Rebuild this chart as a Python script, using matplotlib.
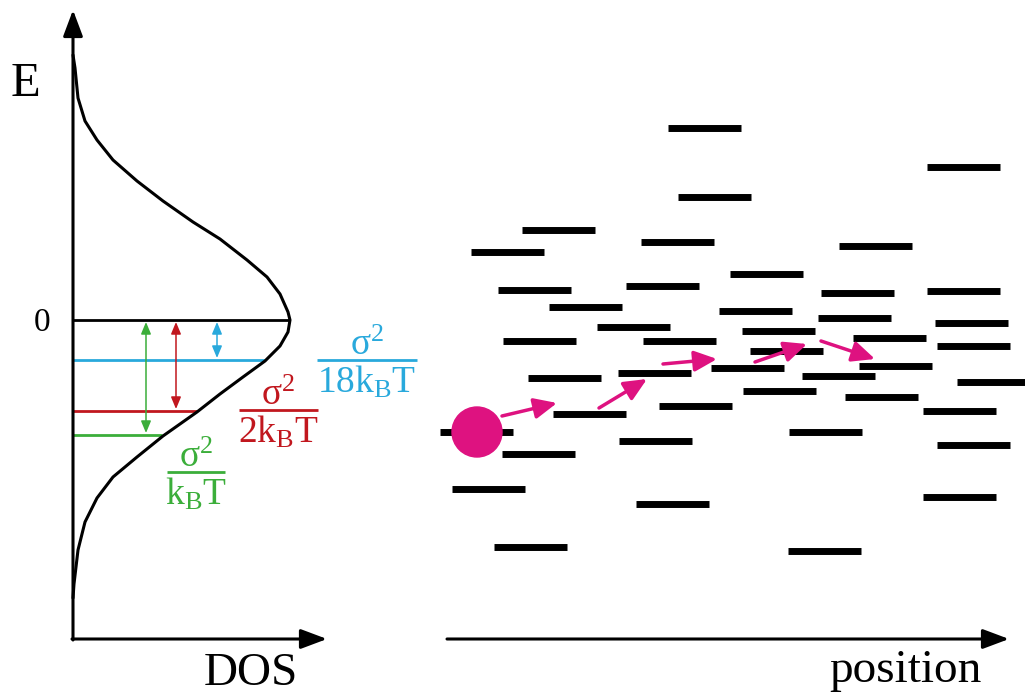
import matplotlib
matplotlib.use('Agg')
import matplotlib.pyplot as plt
from matplotlib.patches import Circle

plt.rcParams['font.family'] = ['Liberation Serif', 'DejaVu Serif']
plt.rcParams['mathtext.fontset'] = 'custom'
plt.rcParams['mathtext.rm'] = 'Liberation Serif'

# Data (pixel units of the 1025x693 canvas, y down)
# DOS curve: x = density, y = energy
dos_x = [73, 75, 78, 85, 97, 113, 137, 163, 193, 220, 247, 267, 280, 288,
         290, 288, 280, 265, 243, 220, 197, 163, 137, 113, 97, 85, 78, 74, 73]
dos_y = [55, 68, 98, 121, 140, 160, 181, 201, 222, 239, 260, 277, 294, 312,
         320, 332, 346, 361, 377, 394, 412, 436, 457, 477, 498, 522, 550, 584,
         598]

# energy levels: zero, sigma^2/18kT, sigma^2/2kT, sigma^2/kT
level_y = [320, 360, 411, 435]
level_xend = [290, 265, 197, 162]
level_colors = ['black', '#29A9DC', '#C1171E', '#3BAE3A']
gap_arrow_x = [217, 176, 146]

# localized sites (left end, energy)
site_x = [668, 927, 678, 522, 641, 839, 471, 730, 626, 498, 821, 927, 549,
          719, 818, 935, 597, 742, 503, 643, 853, 937, 750, 618, 711, 859,
          528, 802, 957, 743, 845, 923, 659, 553, 440, 789, 937, 619, 502,
          452, 923, 636, 494, 788]
site_y = [128, 167, 197, 230, 242, 246, 252, 274, 286, 290, 293, 291, 307,
          311, 318, 323, 327, 331, 341, 341, 338, 346, 351, 373, 368, 366,
          378, 376, 382, 391, 397, 411, 406, 414, 432, 432, 445, 441, 454,
          489, 497, 504, 547, 551]
site_len = 73

# carrier and its hops
carrier = (477, 432)
hop_x0 = [502, 599, 663, 755, 821]
hop_y0 = [416, 408, 364, 362, 341]
hop_x1 = [557, 647, 717, 807, 875]
hop_y1 = [403, 379, 359, 344, 359]

pink = '#DE1280'

fig = plt.figure(figsize=(10.25, 6.93), dpi=100)
ax = fig.add_axes([0, 0, 1, 1])
ax.set_xlim(0, 1025)
ax.set_ylim(693, 0)
ax.axis('off')

# ---- left panel: DOS ----
ax_arrow = dict(arrowstyle='-|>,head_length=0.8,head_width=0.3', color='black',
                lw=2.2, mutation_scale=20, shrinkA=0, shrinkB=0)
ax.annotate('', xy=(73, 10), xytext=(73, 640), arrowprops=ax_arrow)
ax.annotate('', xy=(327, 639), xytext=(72, 639), arrowprops=ax_arrow)

for y, xe, c in zip(level_y, level_xend, level_colors):
    ax.plot([73, xe], [y, y], color=c, lw=2.0, solid_capstyle='butt')

ax.plot(dos_x, dos_y, color='black', lw=2.2, solid_joinstyle='round',
        solid_capstyle='round')

for x, y, c in zip(gap_arrow_x, level_y[1:], level_colors[1:]):
    ax.annotate('', xy=(x, y - 2), xytext=(x, level_y[0] + 2),
                arrowprops=dict(arrowstyle='<|-|>,head_length=0.6,head_width=0.25',
                                color=c, lw=1.1, mutation_scale=12,
                                shrinkA=0, shrinkB=0))

ax.text(25, 84, 'E', fontsize=35, ha='center', va='center')
ax.text(42, 323, '0', fontsize=24, ha='center', va='center')
ax.text(251, 685, 'DOS', fontsize=34, ha='center', va='baseline')

# fractions
fracs = [(r'$\mathrm{18k_BT}$', 367, 360, 100, level_colors[1]),
         (r'$\mathrm{2k_BT}$', 278, 410, 79, level_colors[2]),
         (r'$\mathrm{k_BT}$', 196, 472, 58, level_colors[3])]
for den, xc, yb, w, c in fracs:
    ax.plot([xc - w / 2, xc + w / 2], [yb, yb], color=c, lw=2.0,
            solid_capstyle='butt')
    ax.text(xc, yb - 5, r'$\mathrm{σ^2}$', fontsize=27, color=c,
            ha='center', va='baseline')
    ax.text(xc, yb + 4, den, fontsize=27, color=c, ha='center', va='top')

# ---- right panel: hopping ----
bars = ax.hlines(site_y, site_x, [x + site_len for x in site_x],
                 colors='black', lw=5)
bars.set_capstyle('butt')

ax.add_patch(Circle(carrier, 25, color=pink, zorder=5))

for x0, y0, x1, y1 in zip(hop_x0, hop_y0, hop_x1, hop_y1):
    ax.annotate('', xy=(x1, y1), xytext=(x0, y0),
                arrowprops=dict(arrowstyle='-|>,head_length=0.55,head_width=0.25',
                                color=pink, lw=2.5, mutation_scale=25,
                                shrinkA=0, shrinkB=0))

ax.annotate('', xy=(1009, 639), xytext=(447, 639), arrowprops=ax_arrow)
ax.text(905, 682, 'position', fontsize=34, ha='center', va='baseline')

fig.savefig('out.png', dpi=100)
